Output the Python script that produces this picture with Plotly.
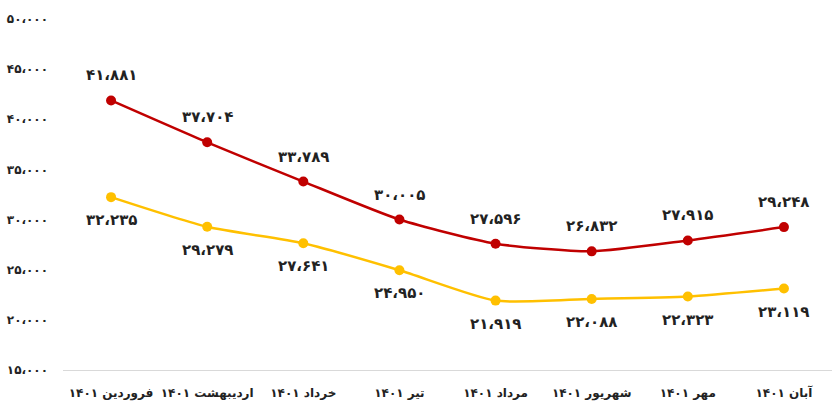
import plotly.graph_objects as go

months = ["فروردین ۱۴۰۱", "اردیبهشت ۱۴۰۱", "خرداد ۱۴۰۱", "تیر ۱۴۰۱",
          "مرداد ۱۴۰۱", "شهریور ۱۴۰۱", "مهر ۱۴۰۱", "آبان ۱۴۰۱"]
red_values = [41881, 37704, 33789, 30005, 27596, 26832, 27915, 29248]
yellow_values = [32235, 29279, 27641, 24950, 21919, 22088, 22323, 23119]
y_ticks = [15000, 20000, 25000, 30000, 35000, 40000, 45000, 50000]

FA_DIGITS = str.maketrans("0123456789,", "۰۱۲۳۴۵۶۷۸۹،")


def fa(n):
    return f"{n:,}".translate(FA_DIGITS)


FONT = "DejaVu Sans"
RED = "#C00000"
YELLOW = "#FFC000"

fig = go.Figure()
for values, color in ((red_values, RED), (yellow_values, YELLOW)):
    fig.add_trace(go.Scatter(
        x=months, y=values, mode="lines+markers",
        line=dict(color=color, width=2.5, shape="spline", smoothing=0.6),
        marker=dict(color=color, size=10),
        cliponaxis=False, showlegend=False,
    ))

# value labels: red series above the points, yellow series below
for values, shift in ((red_values, 25), (yellow_values, -23)):
    for m, v in zip(months, values):
        fig.add_annotation(
            x=m, y=v, text=fa(v), showarrow=False, yshift=shift,
            font=dict(family=FONT, size=15, color="#222222", weight="bold"),
        )

fig.update_layout(
    width=832, height=409,
    margin=dict(l=63, r=0, t=19, b=39),
    paper_bgcolor="white", plot_bgcolor="white",
    font=dict(family=FONT, color="#222222"),
)
fig.update_xaxes(
    type="category", range=[-0.5, 7.5],
    showgrid=False, zeroline=False,
    showline=True, linecolor="#D9D9D9", linewidth=1,
    ticks="", ticklabelstandoff=12,
    tickfont=dict(family=FONT, size=12, color="#222222", weight="bold"),
)
fig.update_yaxes(
    range=[15000, 50000], tickvals=y_ticks,
    ticktext=[fa(v) for v in y_ticks],
    showgrid=False, zeroline=False, showline=False,
    ticks="", ticklabelstandoff=14,
    tickfont=dict(family=FONT, size=12, color="#222222", weight="bold"),
)

fig.write_html("out.html")
